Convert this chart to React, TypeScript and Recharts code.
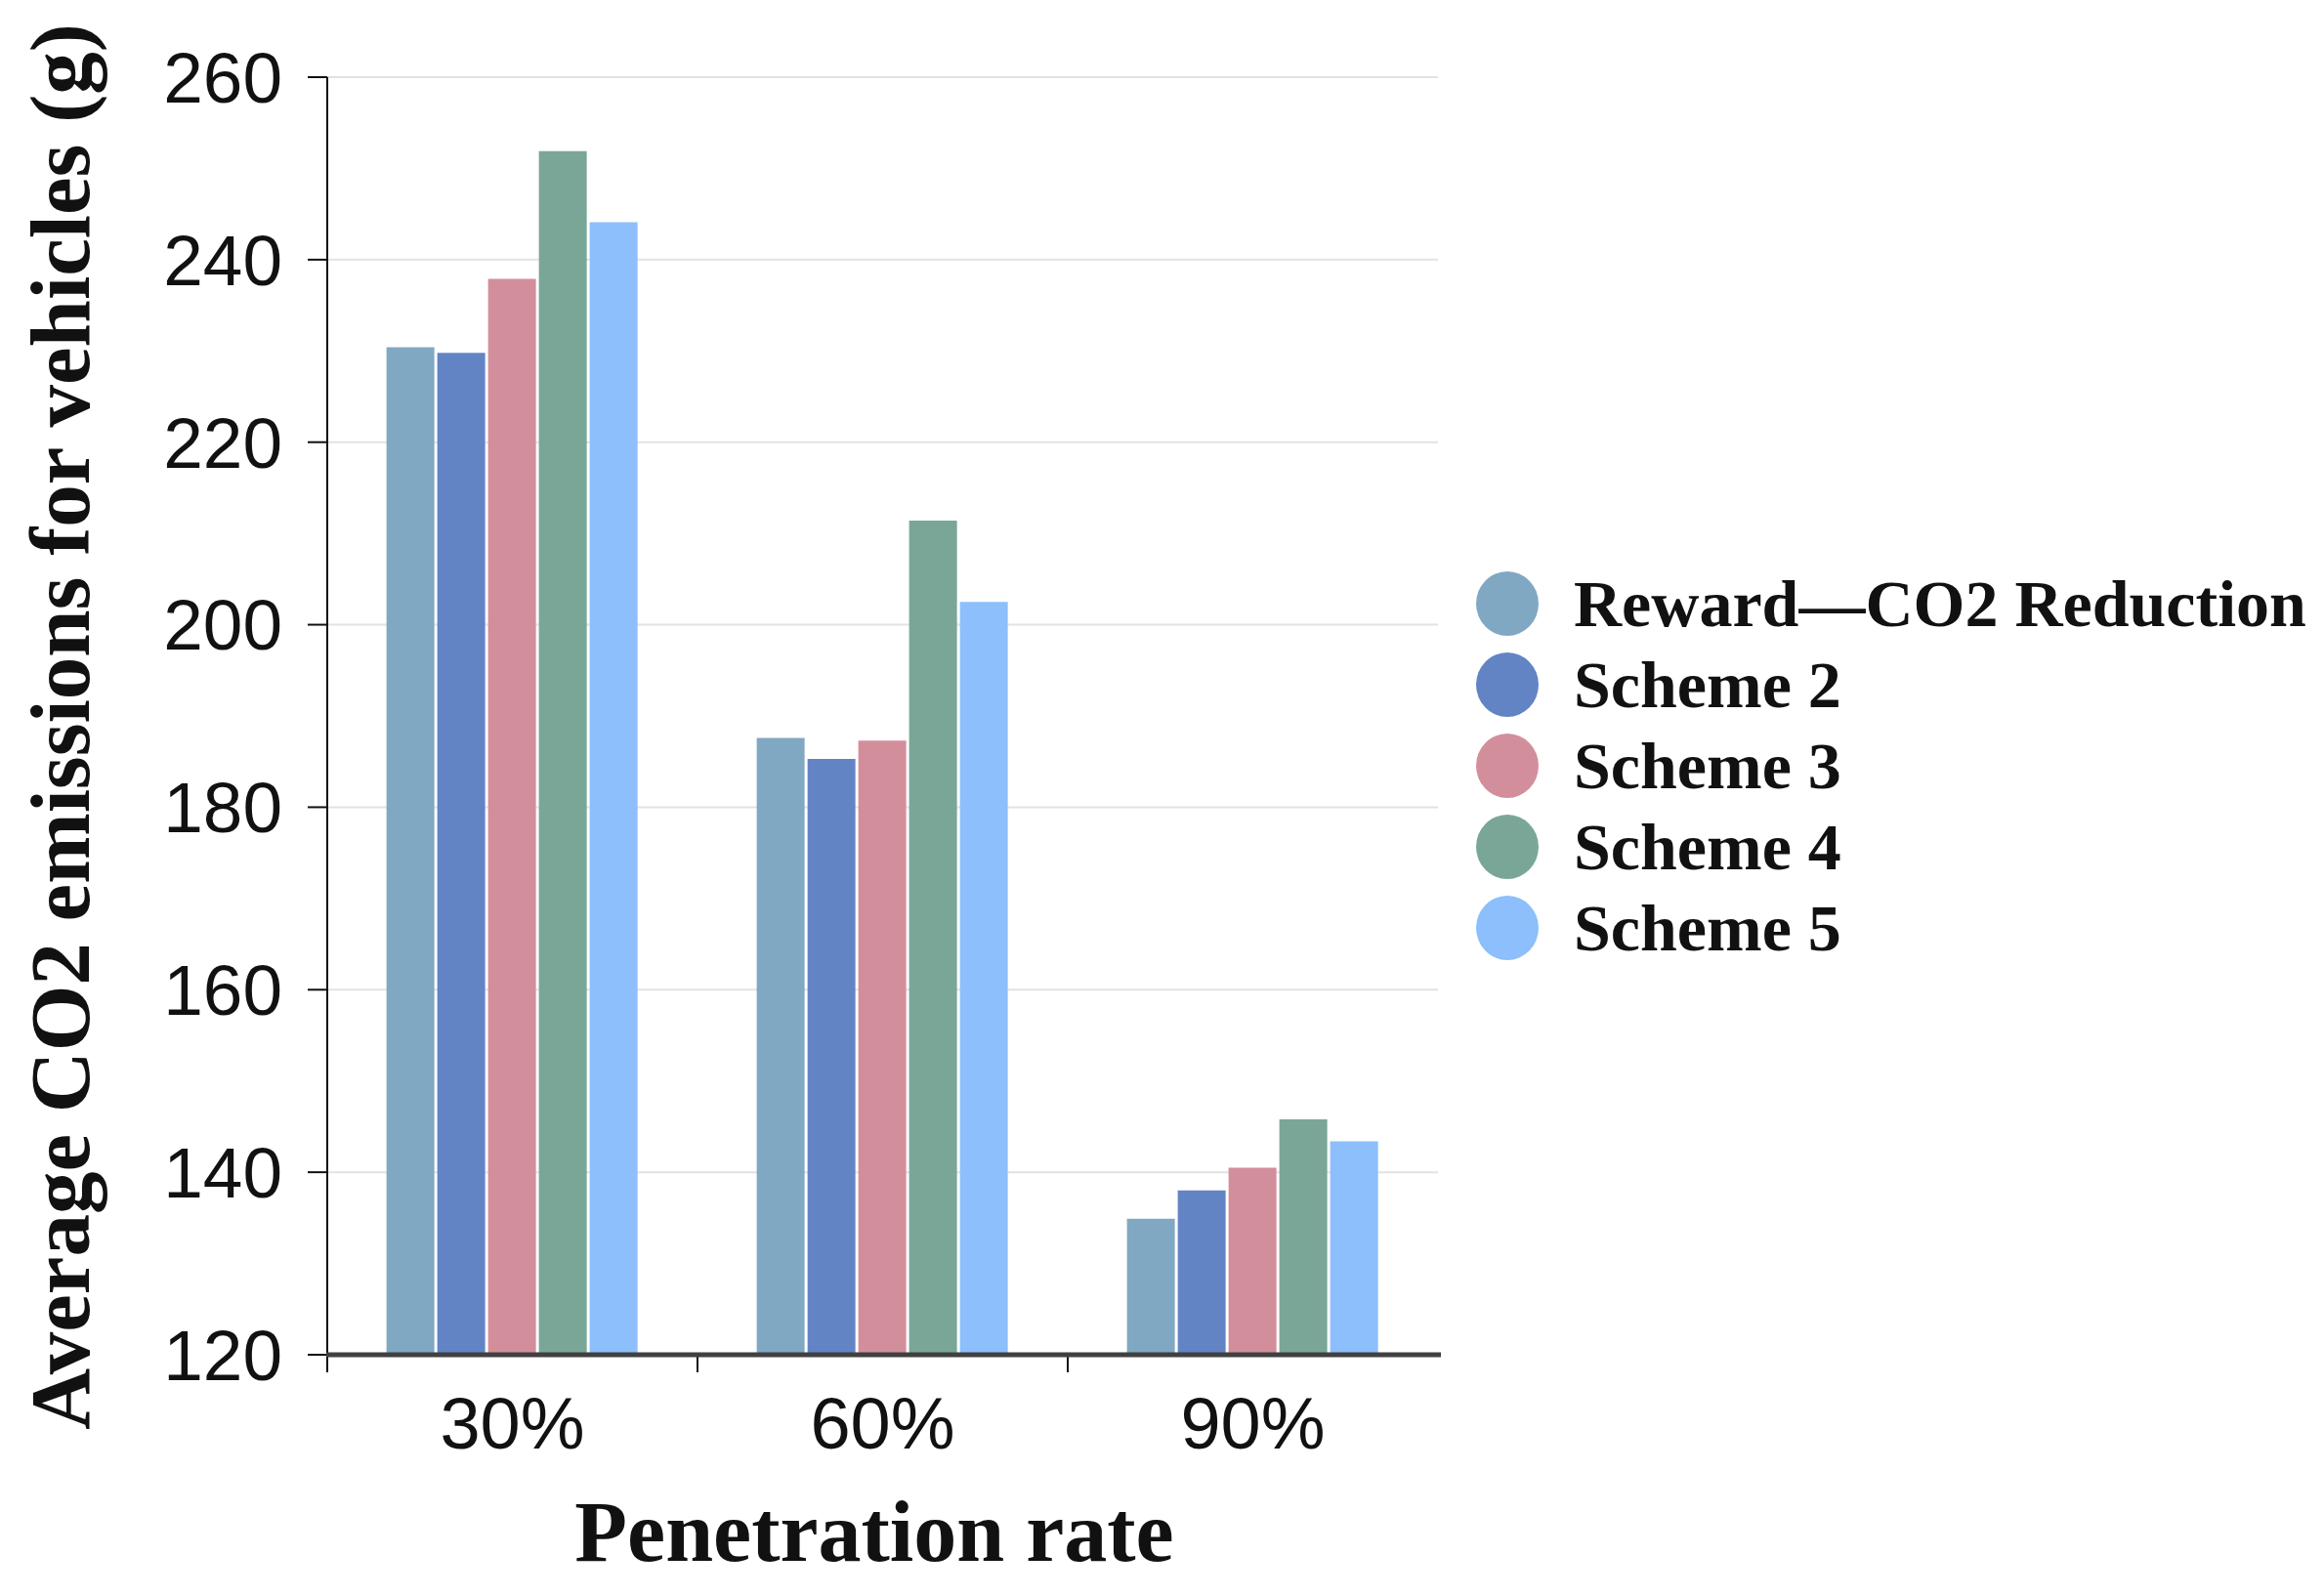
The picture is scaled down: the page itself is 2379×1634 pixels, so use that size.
import React from 'react';
import { BarChart, Bar, XAxis, YAxis, CartesianGrid, Label } from 'recharts';

const categories = ['30%', '60%', '90%'];
const seriesNames = ['Reward\u2014CO2 Reduction', 'Scheme 2', 'Scheme 3', 'Scheme 4', 'Scheme 5'];
const reward = [230.4, 187.6, 134.9];
const scheme2 = [229.8, 185.3, 138.0];
const scheme3 = [237.9, 187.3, 140.5];
const scheme4 = [251.9, 211.4, 145.8];
const scheme5 = [244.1, 202.5, 143.4];
const yTicks = [120, 140, 160, 180, 200, 220, 240, 260];

const COLORS = ['#80a8c2', '#6384c4', '#d38e9c', '#7aa698', '#8cbffb'];
const KEYS = ['s1', 's2', 's3', 's4', 's5'];

const data = categories.map((c, i) => ({
  name: c,
  s1: reward[i],
  s2: scheme2[i],
  s3: scheme3[i],
  s4: scheme4[i],
  s5: scheme5[i],
}));

// chart geometry (chart coordinates, root sits at 8,8)
const W = 2363;
const H = 1618;
const PLOT_L = 327;
const PLOT_R = 1464;
const PLOT_T = 71;
const PLOT_B = 1379;
const BAND = (PLOT_R - PLOT_L) / categories.length;

const serif = '"Liberation Serif", "Times New Roman", serif';
const sans = '"Liberation Sans", Arial, sans-serif';

function XTick(props: any) {
  const { x, payload } = props;
  const left = x - BAND / 2;
  return (
    <g>
      <line x1={left} y1={PLOT_B} x2={left} y2={PLOT_B + 18} stroke="#111" strokeWidth={2} />
      <text x={x} y={1475} textAnchor="middle" fontFamily={sans} fontSize={74} fill="#111">
        {payload.value}
      </text>
    </g>
  );
}

function YTitle() {
  return (
    <text
      x={83}
      y={736}
      textAnchor="middle"
      transform="rotate(-90, 83, 736)"
      fontFamily={serif}
      fontWeight="bold"
      fontSize={87}
      fill="#111"
    >
      Average CO2 emissions for vehicles (g)
    </text>
  );
}

function XTitle() {
  return (
    <text x={887} y={1590} textAnchor="middle" fontFamily={serif} fontWeight="bold" fontSize={88} fill="#111">
      Penetration rate
    </text>
  );
}

export default function App() {
  return (
    <div style={{ position: 'relative', width: W, height: H, background: '#fff' }}>
      <BarChart
        width={W}
        height={H}
        data={data}
        margin={{ top: PLOT_T, right: W - PLOT_R, left: 0, bottom: 0 }}
        barCategoryGap="16%"
        barGap={3}
      >
        <CartesianGrid horizontal vertical={false} stroke="#e2e2e2" strokeWidth={2} />
        <XAxis
          dataKey="name"
          height={H - PLOT_B}
          tick={<XTick />}
          tickLine={false}
          axisLine={false}
          interval={0}
        >
          <Label content={<XTitle />} />
        </XAxis>
        <YAxis
          width={PLOT_L}
          domain={[120, 260]}
          ticks={yTicks}
          interval={0}
          allowDataOverflow
          tickSize={20}
          tickMargin={26}
          tick={{ fontFamily: sans, fontSize: 73, fill: '#111' }}
          tickLine={{ stroke: '#111', strokeWidth: 2 }}
          axisLine={{ stroke: '#111', strokeWidth: 2 }}
        >
          <Label content={<YTitle />} />
        </YAxis>
        {KEYS.map((k, i) => (
          <Bar key={k} dataKey={k} name={seriesNames[i]} fill={COLORS[i]} isAnimationActive={false} />
        ))}
      </BarChart>
      {/* dark baseline at 120 */}
      <svg
        width={PLOT_R - PLOT_L + 4}
        height={6}
        style={{ position: 'absolute', left: PLOT_L - 1, top: PLOT_B - 3 }}
      >
        <line x1={0} y1={3} x2={PLOT_R - PLOT_L + 4} y2={3} stroke="#404040" strokeWidth={5} />
      </svg>
      <div style={{ position: 'absolute', left: 1503, top: 568 }}>
        {seriesNames.map((n, i) => (
          <div key={n} style={{ display: 'flex', alignItems: 'center', height: 83 }}>
            <div
              style={{
                width: 64,
                height: 66,
                borderRadius: '50%',
                background: COLORS[i],
                marginRight: 36,
                flexShrink: 0,
              }}
            />
            <span
              style={{
                fontFamily: serif,
                fontWeight: 'bold',
                fontSize: 68,
                color: '#111',
                whiteSpace: 'nowrap',
                lineHeight: 1,
              }}
            >
              {n}
            </span>
          </div>
        ))}
      </div>
    </div>
  );
}
